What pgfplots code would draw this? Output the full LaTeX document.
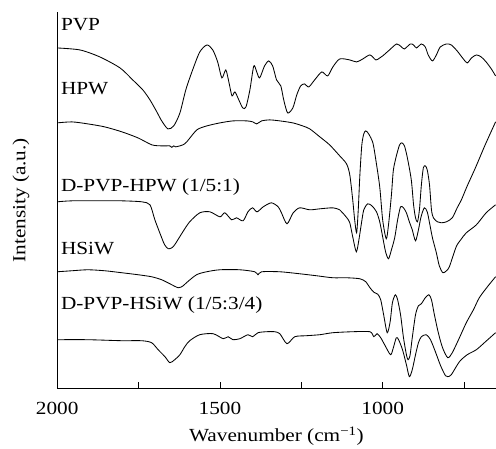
\documentclass[border=0pt]{standalone}
\usepackage{pgfplots}
\pgfplotsset{compat=1.18}
\usepackage{fontspec}
\setmainfont{Liberation Serif}[FakeStretch=1.15]

% spectra: x = wavenumber (cm^-1), y = offset intensity (a.u.)
\pgfplotstableread{
w y
2000 341
1930 339
1869 332
1807 321
1768 309
1737 299
1715 289
1694 277
1679 268
1660 260
1642 263
1623 276
1605 299
1584 319
1562 337
1540 344
1522 339
1507 327
1494 311
1482 319
1472 306
1463 293
1454 297
1442 289
1430 281
1420 282
1408 299
1396 323
1387 317
1378 311
1363 323
1350 328
1338 323
1326 309
1313 303
1304 289
1292 276
1276 281
1264 294
1252 303
1240 305
1227 302
1209 309
1187 317
1169 313
1153 322
1132 330
1101 329
1080 327
1061 330
1039 334
1021 329
1009 331
1000 333
979 339
957 345
942 342
933 340
915 345
905 344
896 341
881 345
869 342
860 334
847 328
835 334
823 342
804 345
789 344
771 338
752 330
740 326
727 331
712 334
697 332
682 327
666 320
653 313
}\pvp

\pgfplotstableread{
w y
2000 266
1955 267
1906 265
1854 262
1801 257
1752 251
1709 244
1679 243
1654 243
1648 241.5
1642 243
1636 242
1614 244
1602 247
1571 259
1540 263
1500 266
1460 268
1417 268
1399 267
1387 265
1372 268
1347 269
1316 268
1276 266
1246 263
1224 260
1193 252
1163 244
1132 233
1111 225
1101 214
1092 189
1086 169
1080 156
1075 179
1070 214
1064 244
1058 255
1052 258
1043 255
1030 246
1021 229
1009 202
1000 169
989 150
982 164
973 194
967 219
957 234
948 244
941 246
933 243
924 231
912 209
905 184
899 171
893 167
887 179
881 204
875 221
869 223
863 219
856 204
850 179
844 171
832 167
820 166
804 167
786 171
771 181
758 189
740 203
715 221
685 244
653 267
}\hpw

\pgfplotstableread{
w y
2000 187
1955 188
1854 188
1801 188
1740 187
1715 184
1700 169
1679 151
1670 144
1659 140
1648 141
1639 144
1614 157
1593 167
1562 176
1531 177
1500 172
1485 176
1464 169
1449 171
1429 168
1414 177
1400 181
1386 177
1367 182
1342 186
1321 182
1311 176
1294 165
1275 176
1255 181
1224 179
1193 180
1153 181
1132 179
1123 176
1110 171
1101 166
1092 152
1081 137
1073 149
1065 166
1058 179
1046 185
1033 183
1019 177
1009 167
1000 152
991 137
982 130
973 139
963 151
954 169
945 182
936 181
927 176
918 167
909 159
899 148
890 159
882 172
872 181
863 177
856 166
847 151
835 136
826 123
815 116
804 118
795 122
774 142
760 149
743 156
712 164
682 176
653 184
}\dphpw

\pgfplotstableread{
w y
2000 117
1955 118
1906 119
1854 118
1801 116
1751 114
1710 112
1679 109
1654 105
1628 101
1613 103
1603 106
1572 114
1541 117
1500 119
1439 119
1393 117
1383 114
1372 117
1316 117
1255 115
1203 113
1153 111
1111 111
1070 110
1052 107
1039 101
1027 96.5
1015 94.5
1006 89
997 74
986 56
977 67
970 86
961 94
954 89
945 74
936 51
927 34
922 29
916 33
909 51
899 74
890 83
881 85
869 91
858 94
850 89
841 74
829 56
816 41
800 31
786 36
764 51
743 66
721 79
703 91
678 102
653 112
}\hsiw

\pgfplotstableread{
w y
2000 49
1906 49
1802 48
1741 48
1710 46
1690 39
1669 32
1654 26
1639 29
1623 34
1608 42
1593 48
1562 54
1521 55
1490 50
1475 52
1460 49
1439 50
1414 54
1400 52
1383 56
1357 57
1332 57
1316 55
1294 45
1270 52
1234 53
1193 54
1153 56
1091 57
1039 57
1027 52
1017 55
1006 51
994 44
976 34
968 40
958 51
951 49
939 39
927 24
918 12
909 19
899 34
890 46
881 52
866 54
853 49
838 37
822 23
807 13
800 12
789 14
764 27
740 34
712 39
684 47
653 56
}\dphsiw

\begin{document}
\begin{tikzpicture}[font=\fontsize{18.5}{22}\selectfont]
\begin{axis}[
  name=ax,
  width=438.7pt, height=377pt, scale only axis,
  x dir=reverse, xmin=653, xmax=2000, ymin=0, ymax=377,
  axis x line*=bottom, axis y line*=left,
  axis line style={black, line width=0.8pt},
  xtick={2000,1500,1000}, xticklabels={2000,1500,1000},
  minor xtick={1750,1250,750},
  ytick=\empty,
  tick align=inside,
  major tick length=7pt, minor tick length=7pt,
  tick style={black, line width=0.8pt},
  xticklabel style={anchor=base, yshift=-25.7pt},
  xlabel={Wavenumber (cm\textsuperscript{−1})},
  xlabel style={at={(axis description cs:0.5,0)}, anchor=base, yshift=-53pt},
  ylabel={Intensity (a.u.)},
  ylabel style={at={(axis description cs:-0.083,0.5)}, anchor=center},
  clip=false,
  spec/.style={black, line width=0.85pt, smooth, tension=0.45, mark=none},
]
\addplot[spec] table[x=w, y=y] {\pvp};
\addplot[spec] table[x=w, y=y] {\hpw};
\addplot[spec] table[x=w, y=y] {\dphpw};
\addplot[spec] table[x=w, y=y] {\hsiw};
\addplot[spec] table[x=w, y=y] {\dphsiw};
\node[anchor=base west, inner sep=0pt] at (axis cs:1989,358) {PVP};
\node[anchor=base west, inner sep=0pt] at (axis cs:1989,294) {HPW};
\node[anchor=base west, inner sep=0pt] at (axis cs:1989,197) {D-PVP-HPW (1/5:1)};
\node[anchor=base west, inner sep=0pt] at (axis cs:1989,134) {HSiW};
\node[anchor=base west, inner sep=0pt] at (axis cs:1989,79) {D-PVP-HSiW (1/5:3/4)};
\end{axis}
\path ([xshift=-57.3pt, yshift=12pt]ax.north west) rectangle ([yshift=-57pt]ax.south east);
\end{tikzpicture}
\end{document}
